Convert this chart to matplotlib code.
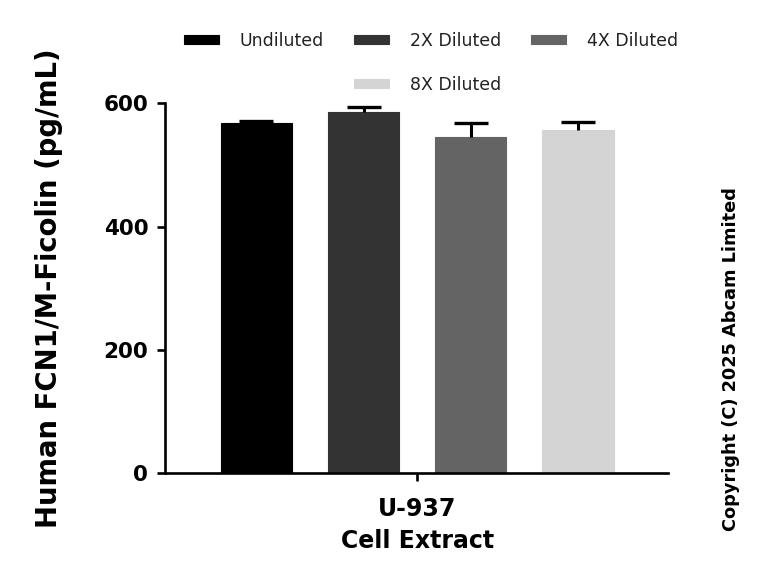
import matplotlib
matplotlib.use("Agg")
import matplotlib.pyplot as plt
from matplotlib.patches import Rectangle

categories = ["Undiluted", "2X Diluted", "4X Diluted", "8X Diluted"]
values = [568.5, 585.5, 546, 557]
errors = [2.5, 8, 21.5, 13]
colors = ["#000000", "#333333", "#646464", "#d4d4d4"]
group_label = "U-937\nCell Extract"
yticks = [0, 200, 400, 600]

fig = plt.figure(figsize=(7.68, 5.82), dpi=100)
ax = fig.add_axes([0.2148, 0.1868, 0.655, 0.6357])

x = list(range(len(categories)))
bars = ax.bar(x, values, width=0.667, color=colors, edgecolor=colors, linewidth=0.8, zorder=2)
for xi, v, e in zip(x, values, errors):
    eb = ax.errorbar([xi], [v], yerr=[[0], [e]], fmt="none", ecolor="black",
                     elinewidth=2.2, capsize=12, capthick=2.4, zorder=3)
    caps = eb[1]
    if len(caps) == 2:
        caps[0].set_visible(False)

ax.set_xlim(-0.852, 3.84)
ax.set_ylim(0, 600)
ax.set_yticks(yticks)
ax.set_yticklabels([str(t) for t in yticks], fontsize=15.5, fontweight="bold")
ax.set_xticks([1.5])
ax.set_xticklabels([group_label], fontsize=17, fontweight="bold", linespacing=1.45)
ax.spines["top"].set_visible(False)
ax.spines["right"].set_visible(False)
for s in ["left", "bottom"]:
    ax.spines[s].set_linewidth(1.9)
ax.tick_params(axis="both", width=1.9, length=6, direction="out")
ax.tick_params(axis="y", pad=6)
ax.tick_params(axis="x", pad=11)
ax.set_ylabel("Human FCN1/M-Ficolin (pg/mL)", fontsize=19.8, fontweight="bold", labelpad=29)

blank = Rectangle((0, 0), 1, 1, fill=False, edgecolor="none", visible=False)
h = bars.patches
handles = [h[0], blank, h[1], h[3], h[2], blank]
labels = [categories[0], "", categories[1], categories[3], categories[2], ""]
fig.legend(handles, labels, ncol=3, loc="upper center", bbox_to_anchor=(0.561, 0.972),
           frameon=False, fontsize=12.5, handlelength=2.0, handleheight=0.4,
           handletextpad=1.2, columnspacing=1.75, labelspacing=1.5,
           labelcolor="#222222")

fig.text(0.952, 0.383, "Copyright (C) 2025 Abcam Limited", rotation=90,
         fontsize=12.8, fontweight="bold", ha="center", va="center")

fig.savefig("out.png", dpi=100)
